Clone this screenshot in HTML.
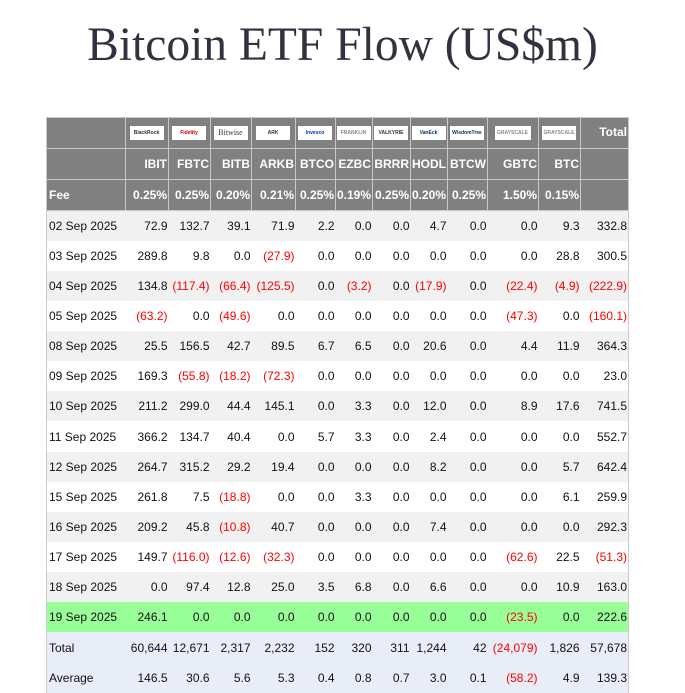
<!DOCTYPE html>
<html><head><meta charset="utf-8"><style>
body{margin:0;background:#fff;width:685px;height:675px;overflow:hidden;position:relative;font-family:"Liberation Sans",Arial,sans-serif}
h1{position:absolute;left:0;width:685px;top:16px;margin:0;text-align:center;font-family:"Liberation Serif",serif;font-weight:normal;font-size:47.5px;color:#30323f;line-height:58px}
table{position:absolute;left:46px;top:117px;border-collapse:collapse;table-layout:fixed;width:582px;font-size:12px;color:#111;line-height:14px}
td{padding:0 1px 0 0;text-align:right;height:30.15px;white-space:nowrap;overflow:hidden;box-sizing:border-box}
td:first-child{text-align:left;padding-left:2px}
tr.h td{background:#808080;color:#fff;font-weight:bold;border:1px solid #c8c8c8;font-size:12px;height:31px}
tr.d td:first-child{border-left:1px solid #ccc}
tr.d td:last-child{border-right:1px solid #ccc}
tr.g td{background:#f1f1f1}
tr.gr td{background:#99ff99}
tr.t td{background:#e9edf8}
.r{color:#f00}
.lg{display:inline-block;background:#fff;height:14px;width:34px;font-size:5px;color:#333;text-align:center;line-height:14px;vertical-align:middle;font-weight:bold}
td.lc{text-align:center}
</style></head><body>
<h1>Bitcoin ETF Flow (US$m)</h1>
<table>
<colgroup><col style="width:79px"><col style="width:43px"><col style="width:42px"><col style="width:41px"><col style="width:44px"><col style="width:40px"><col style="width:37px"><col style="width:38px"><col style="width:37px"><col style="width:40px"><col style="width:51px"><col style="width:42px"><col style="width:48px"></colgroup>
<tr class="h"><td></td><td class="lc"><span class="lg">BlackRock</span></td><td class="lc"><span class="lg" style="color:#c00">Fidelity</span></td><td class="lc"><span class="lg" style="font-size:8px;font-weight:normal;font-family:'Liberation Serif',serif">Bitwise</span></td><td class="lc"><span class="lg">ARK</span></td><td class="lc"><span class="lg" style="color:#03c">Invesco</span></td><td class="lc"><span class="lg" style="color:#888">FRANKLIN</span></td><td class="lc"><span class="lg">VALKYRIE</span></td><td class="lc"><span class="lg" style="color:#036">VanEck</span></td><td class="lc"><span class="lg" style="color:#136">WisdomTree</span></td><td class="lc"><span class="lg" style="color:#888;width:36px">GRAYSCALE</span></td><td class="lc"><span class="lg" style="color:#888">GRAYSCALE</span></td><td style="vertical-align:top;padding-top:7px">Total</td></tr>
<tr class="h"><td></td><td>IBIT</td><td>FBTC</td><td>BITB</td><td>ARKB</td><td>BTCO</td><td>EZBC</td><td>BRRR</td><td>HODL</td><td>BTCW</td><td>GBTC</td><td>BTC</td><td></td></tr>
<tr class="h"><td>Fee</td><td>0.25%</td><td>0.25%</td><td>0.20%</td><td>0.21%</td><td>0.25%</td><td>0.19%</td><td>0.25%</td><td>0.20%</td><td>0.25%</td><td>1.50%</td><td>0.15%</td><td></td></tr>
<tr class="d g"><td>02 Sep 2025</td><td>72.9</td><td>132.7</td><td>39.1</td><td>71.9</td><td>2.2</td><td>0.0</td><td>0.0</td><td>4.7</td><td>0.0</td><td>0.0</td><td>9.3</td><td>332.8</td></tr>
<tr class="d"><td>03 Sep 2025</td><td>289.8</td><td>9.8</td><td>0.0</td><td class="r">(27.9)</td><td>0.0</td><td>0.0</td><td>0.0</td><td>0.0</td><td>0.0</td><td>0.0</td><td>28.8</td><td>300.5</td></tr>
<tr class="d g"><td>04 Sep 2025</td><td>134.8</td><td class="r">(117.4)</td><td class="r">(66.4)</td><td class="r">(125.5)</td><td>0.0</td><td class="r">(3.2)</td><td>0.0</td><td class="r">(17.9)</td><td>0.0</td><td class="r">(22.4)</td><td class="r">(4.9)</td><td class="r">(222.9)</td></tr>
<tr class="d"><td>05 Sep 2025</td><td class="r">(63.2)</td><td>0.0</td><td class="r">(49.6)</td><td>0.0</td><td>0.0</td><td>0.0</td><td>0.0</td><td>0.0</td><td>0.0</td><td class="r">(47.3)</td><td>0.0</td><td class="r">(160.1)</td></tr>
<tr class="d g"><td>08 Sep 2025</td><td>25.5</td><td>156.5</td><td>42.7</td><td>89.5</td><td>6.7</td><td>6.5</td><td>0.0</td><td>20.6</td><td>0.0</td><td>4.4</td><td>11.9</td><td>364.3</td></tr>
<tr class="d"><td>09 Sep 2025</td><td>169.3</td><td class="r">(55.8)</td><td class="r">(18.2)</td><td class="r">(72.3)</td><td>0.0</td><td>0.0</td><td>0.0</td><td>0.0</td><td>0.0</td><td>0.0</td><td>0.0</td><td>23.0</td></tr>
<tr class="d g"><td>10 Sep 2025</td><td>211.2</td><td>299.0</td><td>44.4</td><td>145.1</td><td>0.0</td><td>3.3</td><td>0.0</td><td>12.0</td><td>0.0</td><td>8.9</td><td>17.6</td><td>741.5</td></tr>
<tr class="d"><td>11 Sep 2025</td><td>366.2</td><td>134.7</td><td>40.4</td><td>0.0</td><td>5.7</td><td>3.3</td><td>0.0</td><td>2.4</td><td>0.0</td><td>0.0</td><td>0.0</td><td>552.7</td></tr>
<tr class="d g"><td>12 Sep 2025</td><td>264.7</td><td>315.2</td><td>29.2</td><td>19.4</td><td>0.0</td><td>0.0</td><td>0.0</td><td>8.2</td><td>0.0</td><td>0.0</td><td>5.7</td><td>642.4</td></tr>
<tr class="d"><td>15 Sep 2025</td><td>261.8</td><td>7.5</td><td class="r">(18.8)</td><td>0.0</td><td>0.0</td><td>3.3</td><td>0.0</td><td>0.0</td><td>0.0</td><td>0.0</td><td>6.1</td><td>259.9</td></tr>
<tr class="d g"><td>16 Sep 2025</td><td>209.2</td><td>45.8</td><td class="r">(10.8)</td><td>40.7</td><td>0.0</td><td>0.0</td><td>0.0</td><td>7.4</td><td>0.0</td><td>0.0</td><td>0.0</td><td>292.3</td></tr>
<tr class="d"><td>17 Sep 2025</td><td>149.7</td><td class="r">(116.0)</td><td class="r">(12.6)</td><td class="r">(32.3)</td><td>0.0</td><td>0.0</td><td>0.0</td><td>0.0</td><td>0.0</td><td class="r">(62.6)</td><td>22.5</td><td class="r">(51.3)</td></tr>
<tr class="d g"><td>18 Sep 2025</td><td>0.0</td><td>97.4</td><td>12.8</td><td>25.0</td><td>3.5</td><td>6.8</td><td>0.0</td><td>6.6</td><td>0.0</td><td>0.0</td><td>10.9</td><td>163.0</td></tr>
<tr class="d gr"><td>19 Sep 2025</td><td>246.1</td><td>0.0</td><td>0.0</td><td>0.0</td><td>0.0</td><td>0.0</td><td>0.0</td><td>0.0</td><td>0.0</td><td class="r">(23.5)</td><td>0.0</td><td>222.6</td></tr>
<tr class="d t"><td>Total</td><td>60,644</td><td>12,671</td><td>2,317</td><td>2,232</td><td>152</td><td>320</td><td>311</td><td>1,244</td><td>42</td><td class="r">(24,079)</td><td>1,826</td><td>57,678</td></tr>
<tr class="d t"><td>Average</td><td>146.5</td><td>30.6</td><td>5.6</td><td>5.3</td><td>0.4</td><td>0.8</td><td>0.7</td><td>3.0</td><td>0.1</td><td class="r">(58.2)</td><td>4.9</td><td>139.3</td></tr>
</table>
</body></html>
